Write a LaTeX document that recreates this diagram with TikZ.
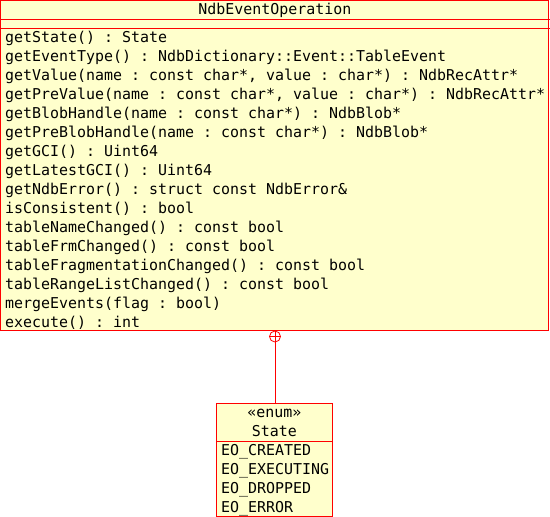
\documentclass[tikz,border=0pt]{standalone}
\usepackage{fontspec}
\setmonofont{DejaVu Sans Mono}
\definecolor{umlfill}{RGB}{255,255,204}
\definecolor{umlline}{RGB}{255,0,0}
\tikzset{
  umlbox/.style={draw=umlline, fill=umlfill, line width=1pt, inner sep=0pt, outer sep=0pt},
  txt/.style={inner sep=0pt, anchor=base west, font=\ttfamily\fontsize{14.95}{17}\selectfont},
  ctxt/.style={inner sep=0pt, anchor=base, font=\ttfamily\fontsize{14.95}{17}\selectfont},
  sep/.style={draw=umlline, line width=1pt},
  nestmark/.style={circle, draw=umlline, line width=0.8pt, minimum size=11pt, inner sep=0pt},
}
\begin{document}
\begin{tikzpicture}[x=1pt,y=-1pt]
\useasboundingbox (0,0) rectangle (550,517);
% class box
\node[umlbox, minimum width=548pt, minimum height=330pt, anchor=north west] (cls) at (0.5,0.5) {};
\draw[sep] (0.5,19.5) -- (549.5,19.5);
\draw[sep] (0.5,28.5) -- (549.5,28.5);
\node[ctxt] (title) at (275,14) {NdbEventOperation};
\foreach \t [count=\i from 0] in {
  {getState() : State},
  {getEventType() : NdbDictionary::Event::TableEvent},
  {getValue(name : const char*, value : char*) : NdbRecAttr*},
  {getPreValue(name : const char*, value : char*) : NdbRecAttr*},
  {getBlobHandle(name : const char*) : NdbBlob*},
  {getPreBlobHandle(name : const char*) : NdbBlob*},
  {getGCI() : Uint64},
  {getLatestGCI() : Uint64},
  {getNdbError() : struct const NdbError\&},
  {isConsistent() : bool},
  {tableNameChanged() : const bool},
  {tableFrmChanged() : const bool},
  {tableFragmentationChanged() : const bool},
  {tableRangeListChanged() : const bool},
  {mergeEvents(flag : bool)},
  {execute() : int}}
  \node[txt] (op\i) at (5,{42+19*\i}) {\t};
% enum box
\node[umlbox, minimum width=116pt, minimum height=113pt, anchor=north west] (st) at (216.5,403.5) {};
\draw[sep] (216.5,441.5) -- (332.5,441.5);
\node[ctxt] (stereo) at (274.5,417) {«enum»};
\node[ctxt] (sname) at (274.5,436) {State};
\foreach \t [count=\i from 0] in {EO\_CREATED, EO\_EXECUTING, EO\_DROPPED, EO\_ERROR}
  \node[txt] (lit\i) at (221,{455+19*\i}) {\t};
% nesting connector
\node[nestmark] (nest) at (275,336.5) {};
\draw[umlline, line width=0.8pt] (nest.north) -- (nest.south);
\draw[umlline, line width=0.8pt] (nest.west) -- (nest.east);
\draw[umlline, line width=0.8pt] (nest.south) -- (st.north -| nest.south);
\end{tikzpicture}
\end{document}
